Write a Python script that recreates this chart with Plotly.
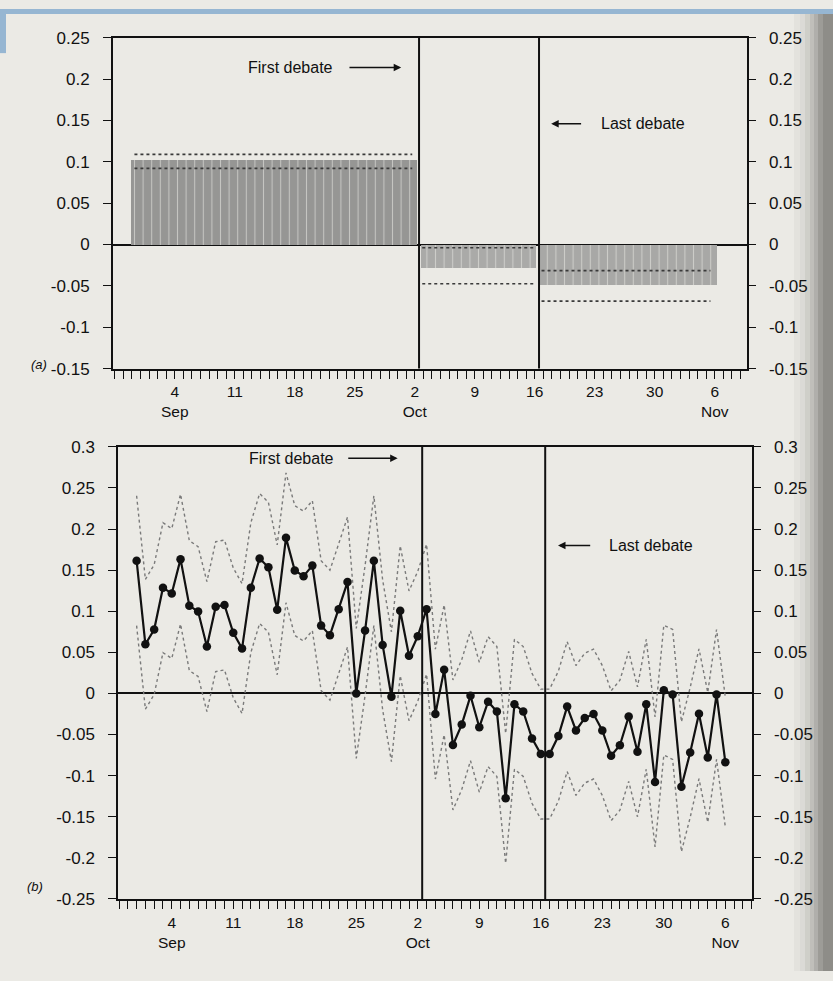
import pandas as pd
import plotly.graph_objects as go

# ---------------- data ----------------
# Panel (a): period estimates (shaded bars) with dotted bounds
period_start = ["2000-08-29 20:00", "2000-10-02 17:00", "2000-10-16 15:00"]
period_end = ["2000-10-02 07:00", "2000-10-16 03:00", "2000-11-06 05:00"]
period_mean = [0.102, -0.0277, -0.0486]
period_upper = [0.109, -0.0039, -0.0316]
period_lower = [0.0921, -0.0474, -0.0684]
bound_start = ["2000-08-30 07:00", "2000-10-02 21:00", "2000-10-16 19:00"]
bound_end = ["2000-10-01 17:00", "2000-10-15 21:00", "2000-11-05 12:00"]

# Panel (b): daily estimates, 31 Aug - 6 Nov
day_first, day_last = "2000-08-31", "2000-11-06"
daily_mean = [
    0.1615, 0.0598, 0.0777, 0.1287, 0.1215, 0.1634, 0.1068, 0.0996, 0.057, 0.1056,
    0.1076, 0.0737, 0.0546, 0.1287, 0.1642, 0.1535, 0.1017, 0.1893, 0.1495, 0.1427,
    0.1555, 0.0825, 0.0709, 0.1024, 0.1355, 0.0, 0.0765, 0.1615, 0.059, -0.004,
    0.1005, 0.0458, 0.0697, 0.1024, -0.0251, 0.0287, -0.0627, -0.0379, -0.0029, -0.0411,
    -0.01, -0.022, -0.1276, -0.0132, -0.022, -0.0547, -0.0738, -0.0738, -0.0519, -0.016,
    -0.0451, -0.03, -0.0251, -0.0451, -0.0758, -0.063, -0.028, -0.071, -0.0132, -0.1077,
    0.004, -0.0012, -0.1136, -0.0718, -0.0248, -0.0778, -0.0012, -0.0837,
]
daily_upper = [
    0.2405, 0.1388, 0.1567, 0.2077, 0.2005, 0.2424, 0.1858, 0.1786, 0.136, 0.1846,
    0.1866, 0.1527, 0.1336, 0.2077, 0.2432, 0.2325, 0.1807, 0.2683, 0.2285, 0.2217,
    0.2345, 0.1615, 0.1499, 0.1814, 0.2145, 0.079, 0.1555, 0.2405, 0.138, 0.075,
    0.1795, 0.1248, 0.1487, 0.1814, 0.0539, 0.1077, 0.0163, 0.0411, 0.0761, 0.0379,
    0.069, 0.057, -0.0486, 0.0658, 0.057, 0.0243, 0.0052, 0.0052, 0.0271, 0.063,
    0.0339, 0.049, 0.0539, 0.0339, 0.0032, 0.016, 0.051, 0.008, 0.0658, -0.0287,
    0.083, 0.0778, -0.0346, 0.0072, 0.0542, 0.0012, 0.0778, -0.0047,
]
daily_lower = [
    0.0825, -0.0192, -0.0013, 0.0497, 0.0425, 0.0844, 0.0278, 0.0206, -0.022, 0.0266,
    0.0286, -0.0053, -0.0244, 0.0497, 0.0852, 0.0745, 0.0227, 0.1103, 0.0705, 0.0637,
    0.0765, 0.0035, -0.0081, 0.0234, 0.0565, -0.079, -0.0025, 0.0825, -0.02, -0.083,
    0.0215, -0.0332, -0.0093, 0.0234, -0.1041, -0.0503, -0.1417, -0.1169, -0.0819, -0.1201,
    -0.089, -0.101, -0.2066, -0.0922, -0.101, -0.1337, -0.1528, -0.1528, -0.1309, -0.095,
    -0.1241, -0.109, -0.1041, -0.1241, -0.1548, -0.142, -0.107, -0.15, -0.0922, -0.1867,
    -0.075, -0.0802, -0.1926, -0.1508, -0.1038, -0.1568, -0.0802, -0.1627,
]

debate_dates = ["2000-10-02 12:00", "2000-10-16 12:00"]

x_tick_dates = ["2000-09-04", "2000-09-11", "2000-09-18", "2000-09-25", "2000-10-02",
                "2000-10-09", "2000-10-16", "2000-10-23", "2000-10-30", "2000-11-06"]
x_tick_text = ["4<br>Sep", "11", "18", "25", "2<br>Oct", "9", "16", "23", "30", "6<br>Nov"]

top_y_ticks = [0.25, 0.2, 0.15, 0.1, 0.05, 0, -0.05, -0.1, -0.15]
top_y_text = ["0.25", "0.2", "0.15", "0.1", "0.05", "0", "-0.05", "-0.1", "-0.15"]
bot_y_ticks = [0.3, 0.25, 0.2, 0.15, 0.1, 0.05, 0, -0.05, -0.1, -0.15, -0.2, -0.25]
bot_y_text = ["0.3", "0.25", "0.2", "0.15", "0.1", "0.05", "0", "-0.05", "-0.1", "-0.15", "-0.2", "-0.25"]

# ---------------- styling ----------------
PAPER = "rgb(235,234,229)"
INK = "#111111"
FONT = "Liberation Sans, Arial, Helvetica, sans-serif"
block_colors = ["rgb(150,150,148)", "rgb(170,170,168)", "rgb(168,168,166)"]

days = pd.date_range(day_first, day_last, freq="D")
ps = pd.to_datetime(period_start)
pe = pd.to_datetime(period_end)

fig = go.Figure()

# Panel (a) bars, one trace per period
for a, b, v, c in zip(ps, pe, period_mean, block_colors):
    fig.add_trace(go.Bar(
        x=[a + (b - a) / 2], y=[v], width=[(b - a).total_seconds() * 1000], base=0,
        marker=dict(color=c, line=dict(width=0),
                    pattern=dict(shape="|", fillmode="replace", bgcolor=c,
                                 fgcolor="rgba(228,228,224,0.6)", size=8.6, solidity=0.12)),
        xaxis="x", yaxis="y", showlegend=False, hoverinfo="skip"))

for s, e, u, l in zip(bound_start, bound_end, period_upper, period_lower):
    for v in (u, l):
        fig.add_trace(go.Scatter(x=[s, e], y=[v, v], mode="lines",
                                 line=dict(color="#3a3a3a", width=1.6, dash="dot"),
                                 xaxis="x", yaxis="y", showlegend=False, hoverinfo="skip"))

# Panel (b) bands and line
for band in (daily_upper, daily_lower):
    fig.add_trace(go.Scatter(x=days, y=band, mode="lines",
                             line=dict(color="#7a7a7a", width=1.4, dash="dot"),
                             xaxis="x2", yaxis="y2", showlegend=False, hoverinfo="skip"))
fig.add_trace(go.Scatter(x=days, y=daily_mean, mode="lines+markers",
                         line=dict(color=INK, width=2.2),
                         marker=dict(color=INK, size=8.5),
                         xaxis="x2", yaxis="y2", showlegend=False))

# invisible traces so the right-hand axes render
fig.add_trace(go.Scatter(x=[day_first], y=[0], mode="markers", opacity=0,
                         xaxis="x", yaxis="y3", showlegend=False, hoverinfo="skip"))
fig.add_trace(go.Scatter(x=[day_first], y=[0], mode="markers", opacity=0,
                         xaxis="x2", yaxis="y4", showlegend=False, hoverinfo="skip"))

tickfont_y = dict(family=FONT, size=17, color=INK)
tickfont_x = dict(family=FONT, size=15.5, color=INK)

xcommon = dict(
    type="date", tickvals=x_tick_dates, ticktext=x_tick_text,
    ticks="outside", ticklen=8, tickwidth=1.4, tickcolor=INK,
    minor=dict(dtick=86400000, tick0="2000-08-28", ticks="outside", ticklen=8,
               tickwidth=1.4, tickcolor=INK, showgrid=False),
    showline=True, linewidth=2, linecolor=INK, mirror=True,
    showgrid=False, zeroline=False, tickfont=tickfont_x, tickangle=0,
    fixedrange=True,
)
ycommon = dict(
    ticks="outside", ticklen=8, tickwidth=1.4, tickcolor=INK,
    showgrid=False, tickfont=tickfont_y, ticklabelstandoff=10, fixedrange=True,
)

top_dom = [1 - 366.7 / 981, 1 - 29.3 / 981]
bot_dom = [1 - 907.5 / 981, 1 - 446.5 / 981]

fig.update_layout(
    width=833, height=981, margin=dict(l=0, r=0, t=0, b=0),
    paper_bgcolor=PAPER, plot_bgcolor=PAPER, bargap=0, barmode="overlay",
    font=dict(family=FONT, color=INK),
    xaxis=dict(domain=[113 / 833, 746.5 / 833], anchor="y",
               range=["2000-08-27 19:00", "2000-11-09 17:00"], **xcommon),
    yaxis=dict(domain=top_dom, anchor="x", range=[-0.15, 0.25],
               tickvals=top_y_ticks, ticktext=top_y_text,
               showline=True, linewidth=2, linecolor=INK, mirror=True,
               zeroline=True, zerolinecolor=INK, zerolinewidth=2, **ycommon),
    yaxis3=dict(overlaying="y", side="right", anchor="x", range=[-0.15, 0.25],
                tickvals=top_y_ticks, ticktext=top_y_text, showline=False,
                zeroline=False, **ycommon),
    xaxis2=dict(domain=[118.3 / 833, 751.7 / 833], anchor="y2",
                range=["2000-08-28 22:00", "2000-11-09 00:00"], **xcommon),
    yaxis2=dict(domain=bot_dom, anchor="x2", range=[-0.25, 0.3],
                tickvals=bot_y_ticks, ticktext=bot_y_text,
                showline=True, linewidth=2, linecolor=INK, mirror=True,
                zeroline=True, zerolinecolor=INK, zerolinewidth=2, **ycommon),
    yaxis4=dict(overlaying="y2", side="right", anchor="x2", range=[-0.25, 0.3],
                tickvals=bot_y_ticks, ticktext=bot_y_text, showline=False,
                zeroline=False, **ycommon),
)

# debate marker lines
shapes = []
for xr, yr in (("x", "y domain"), ("x2", "y2 domain")):
    for d in debate_dates:
        shapes.append(dict(type="line", xref=xr, yref=yr, x0=d, x1=d, y0=0, y1=1,
                           line=dict(color=INK, width=2)))
# scan artefacts: blue banner and page shadow
shapes += [
    dict(type="rect", xref="paper", yref="paper", x0=0, x1=1, y0=1 - 5 / 981, y1=1,
         fillcolor="rgb(150,182,210)", line=dict(width=0), layer="above"),
    dict(type="rect", xref="paper", yref="paper", x0=0, x1=6 / 833, y0=1 - 45 / 981, y1=1,
         fillcolor="rgb(150,182,210)", line=dict(width=0), layer="above"),
]
for x0, x1, a in ((794, 800, 0.04), (800, 805, 0.08), (805, 810, 0.14), (810, 814, 0.22),
                  (814, 818, 0.3), (818, 823, 0.4), (823, 833, 0.48)):
    shapes.append(dict(type="rect", xref="paper", yref="paper", x0=x0 / 833, x1=x1 / 833,
                       y0=0, y1=1 - 5 / 981, fillcolor=f"rgba(40,40,35,{a})",
                       line=dict(width=0), layer="above"))
fig.update_layout(shapes=shapes)

afont = dict(family=FONT, size=16, color=INK)
ann = [
    dict(x="2000-09-17 12:00", y=0.214, xref="x", yref="y", text="First debate",
         showarrow=False, font=afont),
    dict(x="2000-09-30 10:00", y=0.214, ax="2000-09-24 05:00", ay=0.214,
         xref="x", yref="y", axref="x", ayref="y", text="", showarrow=True,
         arrowhead=2, arrowsize=1, arrowwidth=1.5, arrowcolor=INK),
    dict(x="2000-10-28 14:00", y=0.146, xref="x", yref="y", text="Last debate",
         showarrow=False, font=afont),
    dict(x="2000-10-17 22:00", y=0.146, ax="2000-10-21 14:00", ay=0.146,
         xref="x", yref="y", axref="x", ayref="y", text="", showarrow=True,
         arrowhead=2, arrowsize=1, arrowwidth=1.5, arrowcolor=INK),
    dict(x="2000-09-17 16:00", y=0.286, xref="x2", yref="y2", text="First debate",
         showarrow=False, font=afont),
    dict(x="2000-09-29 17:00", y=0.286, ax="2000-09-23 22:00", ay=0.286,
         xref="x2", yref="y2", axref="x2", ayref="y2", text="", showarrow=True,
         arrowhead=2, arrowsize=1, arrowwidth=1.5, arrowcolor=INK),
    dict(x="2000-10-28 14:00", y=0.180, xref="x2", yref="y2", text="Last debate",
         showarrow=False, font=afont),
    dict(x="2000-10-17 23:00", y=0.180, ax="2000-10-21 19:00", ay=0.180,
         xref="x2", yref="y2", axref="x2", ayref="y2", text="", showarrow=True,
         arrowhead=2, arrowsize=1, arrowwidth=1.5, arrowcolor=INK),
    dict(x=29 / 833, y=1 - 363 / 981, xref="paper", yref="paper", text="<i>(a)</i>",
         showarrow=False, font=dict(family=FONT, size=13, color=INK)),
    dict(x=25 / 833, y=1 - 905 / 981, xref="paper", yref="paper", text="<i>(b)</i>",
         showarrow=False, font=dict(family=FONT, size=13, color=INK)),
]
fig.update_layout(annotations=ann)

fig.write_html("out.html")
